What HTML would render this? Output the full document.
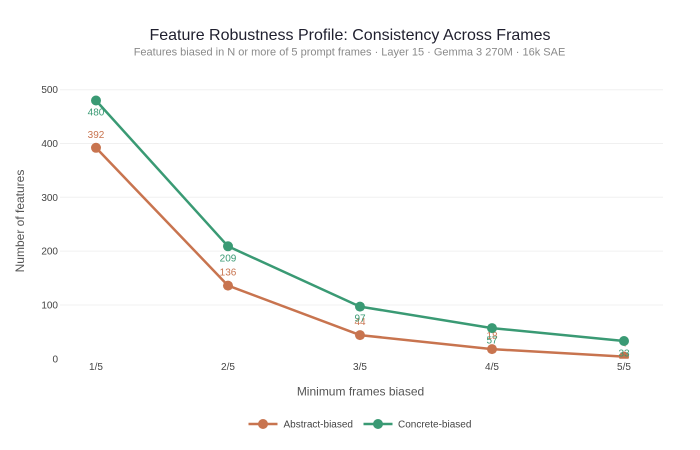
<!DOCTYPE html>
<html>
<head>
<meta charset="utf-8">
<style>
  html, body { margin: 0; padding: 0; background: #ffffff; }
  svg { display: block; }
  text { font-family: "Liberation Sans", Arial, sans-serif; }
</style>
</head>
<body>
<svg width="700" height="450" viewBox="0 0 700 450" xmlns="http://www.w3.org/2000/svg">
  <defs>
    <clipPath id="plot">
      <rect x="60" y="60" width="603" height="298.8"/>
    </clipPath>
  </defs>
  <rect x="0" y="0" width="700" height="450" fill="#ffffff"/>

  <!-- Title -->
  <text x="350" y="40" text-anchor="middle" font-size="16" fill="#1f1f2e">Feature Robustness Profile: Consistency Across Frames</text>
  <text x="349.5" y="55.5" text-anchor="middle" font-size="11" fill="#8a8a8a">Features biased in N or more of 5 prompt frames · Layer 15 · Gemma 3 270M · 16k SAE</text>

  <!-- Grid lines -->
  <g stroke="#f0f0f0" stroke-width="1">
    <line x1="60" x2="663" y1="89.7" y2="89.7"/>
    <line x1="60" x2="663" y1="143.5" y2="143.5"/>
    <line x1="60" x2="663" y1="197.3" y2="197.3"/>
    <line x1="60" x2="663" y1="251.1" y2="251.1"/>
    <line x1="60" x2="663" y1="305.0" y2="305.0"/>
  </g>

  <!-- Y tick labels -->
  <g font-size="10" fill="#444444" text-anchor="end">
    <text x="58" y="93.2">500</text>
    <text x="58" y="147">400</text>
    <text x="58" y="200.8">300</text>
    <text x="58" y="254.6">200</text>
    <text x="58" y="308.5">100</text>
    <text x="58" y="362.3">0</text>
  </g>

  <!-- X tick labels -->
  <g font-size="10" fill="#444444" text-anchor="middle">
    <text x="96" y="370">1/5</text>
    <text x="228" y="370">2/5</text>
    <text x="360" y="370">3/5</text>
    <text x="492" y="370">4/5</text>
    <text x="624" y="370">5/5</text>
  </g>

  <!-- Axis titles -->
  <text x="360.5" y="395.5" text-anchor="middle" font-size="12" fill="#555555">Minimum frames biased</text>
  <text transform="translate(24,221) rotate(-90)" text-anchor="middle" font-size="12" fill="#555555">Number of features</text>

  <!-- Abstract-biased trace -->
  <g clip-path="url(#plot)">
    <polyline points="96,147.8 228,285.6 360,335.1 492,349.1 624,356.6" fill="none" stroke="#C8744F" stroke-width="2.5" stroke-linejoin="round"/>
    <g fill="#C8744F">
      <circle cx="96" cy="147.8" r="5"/>
      <circle cx="228" cy="285.6" r="5"/>
      <circle cx="360" cy="335.1" r="5"/>
      <circle cx="492" cy="349.1" r="5"/>
      <circle cx="624" cy="356.6" r="5"/>
    </g>
  </g>
  <g font-size="10" fill="#C8744F" text-anchor="middle">
    <text x="96" y="137.8">392</text>
    <text x="228" y="275.6">136</text>
    <text x="360" y="325.1">44</text>
    <text x="492" y="339.1">18</text>
    <text x="624" y="346.6">4</text>
  </g>

  <!-- Concrete-biased trace -->
  <g clip-path="url(#plot)">
    <polyline points="96,100.5 228,246.3 360,306.6 492,328.1 624,341.0" fill="none" stroke="#3A9A74" stroke-width="2.5" stroke-linejoin="round"/>
    <g fill="#3A9A74">
      <circle cx="96" cy="100.5" r="5"/>
      <circle cx="228" cy="246.3" r="5"/>
      <circle cx="360" cy="306.6" r="5"/>
      <circle cx="492" cy="328.1" r="5"/>
      <circle cx="624" cy="341.0" r="5"/>
    </g>
  </g>
  <g font-size="10" fill="#3A9A74" text-anchor="middle">
    <text x="96" y="115.5">480</text>
    <text x="228" y="261.5">209</text>
    <text x="360" y="321.5">97</text>
    <text x="492" y="343.3">57</text>
    <text x="624" y="356.3">33</text>
  </g>

  <!-- Legend -->
  <line x1="248.5" x2="277.5" y1="424" y2="424" stroke="#C8744F" stroke-width="2.5"/>
  <circle cx="263" cy="424" r="5" fill="#C8744F"/>
  <text x="283.5" y="427.5" font-size="10" fill="#444444">Abstract-biased</text>

  <line x1="363.5" x2="392.5" y1="424" y2="424" stroke="#3A9A74" stroke-width="2.5"/>
  <circle cx="378" cy="424" r="5" fill="#3A9A74"/>
  <text x="398" y="427.5" font-size="10" fill="#444444">Concrete-biased</text>
</svg>
</body>
</html>
